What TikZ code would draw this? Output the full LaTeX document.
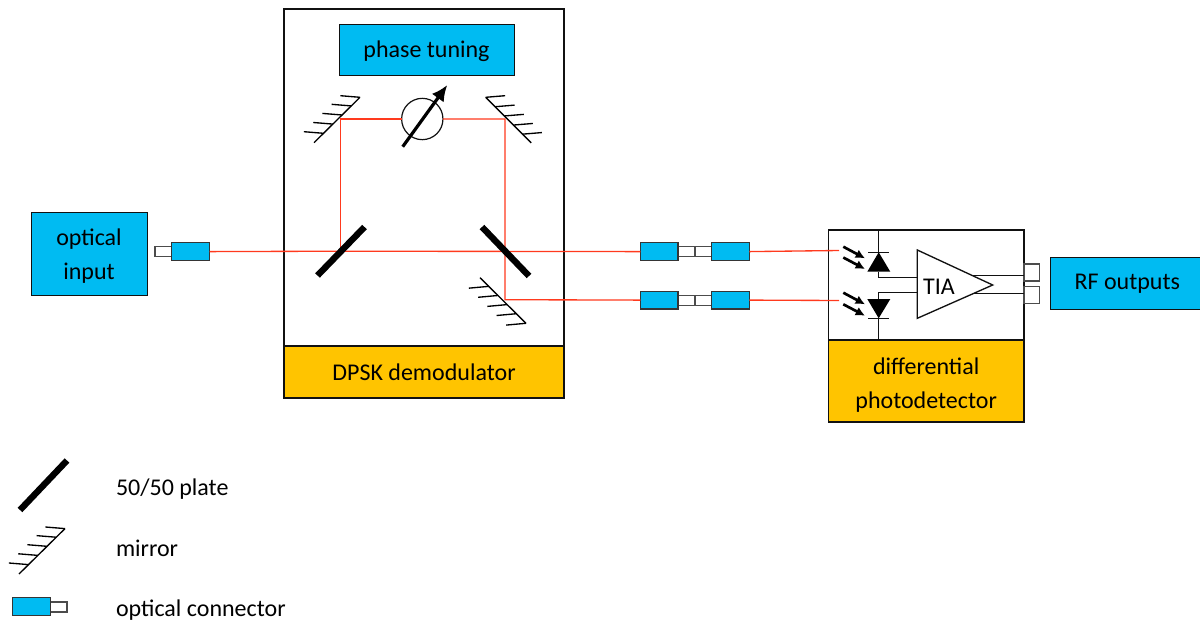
\documentclass[tikz,border=0pt]{standalone}
\usepackage{fontspec}
\setmainfont{Carlito}
\usetikzlibrary{arrows.meta}
\definecolor{cyanbox}{HTML}{00BBF2}
\definecolor{amberbox}{HTML}{FFC400}
\definecolor{beam}{HTML}{FF3A1E}
\definecolor{ink}{HTML}{111111}
\newcommand{\rbox}[6]{% name, style, x1, y1, x2, y2, then text
  \pgfmathsetmacro{\rw}{(#5-#3)*0.75}\pgfmathsetmacro{\rh}{(#6-#4)*0.75}
  \node[#2,minimum width=\rw pt,minimum height=\rh pt] (#1) at ({(#3+#5)/2},{(#4+#6)/2})}
\newcommand{\lowered}[2]{\raisebox{-#1}[\height][\depth]{#2}}
\tikzset{
  x=0.75pt,y=-0.75pt,
  every node/.style={font=\fontsize{18}{25.5}\selectfont,text=black,inner sep=0pt,outer sep=0pt},
  frame/.style={draw=ink,line width=0.9pt,fill=white},
  cyanb/.style={frame,line width=0.75pt,fill=cyanbox,align=center},
  amberb/.style={frame,fill=amberbox,align=center},
  connb/.style={draw=ink!85,line width=0.9pt,fill=cyanbox},
  stub/.style={draw=ink!75,line width=0.8pt,fill=white},
  beamline/.style={draw=beam,line width=1pt},
  wire/.style={draw=ink,line width=1pt},
  plate/.style={draw=black,line width=4.8pt},
  mirrorline/.style={draw=black,line width=1pt},
  legendtext/.style={anchor=west},
  lightarrow/.style={draw=black,line width=2pt,-{Latex[length=7pt,width=7pt]}},
  pics/mirrorleft/.style={code={
    \draw[mirrorline] (0,0) -- (46,-45.4);
    \foreach \t in {0.207,0.41,0.61,0.81,1}
      \draw[mirrorline] ({46*\t},{-45.4*\t}) -- ++(-19.6,-1.6);
  }},
  pics/mirrorright/.style={code={
    \draw[mirrorline] (0,0) -- (45.5,45.5);
    \foreach \t in {0,0.207,0.41,0.61,0.81}
      \draw[mirrorline] ({45.5*\t},{45.5*\t}) -- ++(19.4,-1.6);
  }},
  pics/mirrorlow/.style={code={
    \draw[mirrorline] (0,0) -- (46,45.6);
    \foreach \t in {0.19,0.39,0.59,0.79,1}
      \draw[mirrorline] ({46*\t},{45.6*\t}) -- ++(-19.8,1.8);
  }},
}
\begin{document}
\begin{tikzpicture}
\useasboundingbox (0,0) rectangle (1200,625);
% enclosures
\rbox{demod}{frame}{284}{9}{564}{346} {};
\rbox{demodlabel}{amberb}{284}{346}{564}{398} {DPSK demodulator};
\rbox{phasetune}{cyanb}{339}{24}{514}{75} {\lowered{1.5pt}{phase tuning}};
\rbox{input}{cyanb}{31}{212}{147}{295} {\lowered{2.2pt}{optical}\\\lowered{2.2pt}{input}};
\rbox{det}{frame}{828.3}{230}{1024}{340} {};
\rbox{detlabel}{amberb}{828.3}{340}{1024}{422} {\lowered{3pt}{differential}\\\lowered{3pt}{photodetector}};
\rbox{rf}{cyanb}{1050.5}{257}{1204}{309} {\lowered{0.8pt}{RF outputs}};
% beam junctions
\coordinate (j1) at (340.5,251.2);
\coordinate (j2) at (340.5,119);
\coordinate (j3) at (505,119);
\coordinate (j4) at (505,299.7);
% connectors
\rbox{stubin}{stub}{155}{246.5}{171.3}{256.5} {};
\rbox{connin}{connb}{171.3}{242.7}{209.5}{260.5} {};
\rbox{stuba}{stub}{678}{246.5}{695}{256.5} {};
\rbox{stubb}{stub}{695}{246.5}{711.3}{256.5} {};
\rbox{conna}{connb}{640.3}{242.7}{678}{260.5} {};
\rbox{connb}{connb}{711.3}{242.7}{749.3}{260.5} {};
\rbox{stubc}{stub}{678}{295.4}{695}{305.4} {};
\rbox{stubd}{stub}{695}{295.4}{711.3}{305.4} {};
\rbox{connc}{connb}{640.3}{291.2}{678}{309} {};
\rbox{connd}{connb}{711.3}{291.2}{749.3}{309} {};
% beams
\coordinate (da) at (839,250.5);
\coordinate (dc) at (839,300.5);
\node[draw=ink,line width=0.9pt,fill=white,circle,minimum size=31pt] (ps) at (422.3,119) {};
\draw[beamline] (j1) -- (j2) -- (ps.west);
\draw[beamline] (ps.east) -- (j3) -- (j4) -- (connc.west);
\draw[beamline] (connb.east) -- (da);
\draw[beamline] (connd.east) -- (dc);
\draw[beamline] (connin.east) -- (j1);
\draw[beamline] (j1) -- (conna.west);
% phase shifter arrow
\coordinate (psa) at (402.7,146.7);
\coordinate (psb) at (447.3,85);
\draw[draw=black,line width=2.4pt,-{Latex[length=12pt,width=11pt]}] (psa) -- (psb);
% plates
\coordinate (pl1) at (317.5,275.5);
\coordinate (pl2) at (364.5,227);
\coordinate (pr1) at (482,227);
\coordinate (pr2) at (529,276);
\draw[plate] (pl1) -- (pl2);
\draw[plate] (pr1) -- (pr2);
% mirrors
\pic at (314,142.7) {mirrorleft};
\pic at (485.7,97.3) {mirrorright};
\pic at (480,277.7) {mirrorlow};
% photodiodes
\coordinate (tia1) at (917.3,250);
\coordinate (tia2) at (917.3,318.3);
\coordinate (tia3) at (992.7,285);
\coordinate (dtop) at (878.7,230);
\coordinate (dbot) at (878.7,340);
\coordinate (ua) at (878.7,252.3);
\coordinate (ub) at (878.7,271.7);
\coordinate (uc) at (878.7,277.3);
\coordinate (ud) at (917.3,277.3);
\coordinate (la) at (878.7,318.3);
\coordinate (lb) at (878.7,299);
\coordinate (lc) at (878.7,292.7);
\coordinate (ld) at (917.3,292.7);
\draw[wire] (dtop) -- (ua);
\draw[wire] (ub) -- (uc) -- (ud);
\draw[wire] (dbot) -- (la);
\draw[wire] (lb) -- (lc) -- (ld);
\draw[wire] (868,252.3) -- (889,252.3);
\draw[wire] (868,318.3) -- (889,318.3);
\fill[black] (ua) -- (890.3,271.7) -- (867.3,271.7) -- cycle;
\fill[black] (la) -- (890.3,299) -- (867.3,299) -- cycle;
\draw[lightarrow] (843.3,246.7) -- (865,258.3);
\draw[lightarrow] (843.3,257.5) -- (865,269);
\draw[lightarrow] (843.3,292.7) -- (865,304.3);
\draw[lightarrow] (843.3,304.3) -- (865,315.7);
% TIA
\draw[wire,fill=white] (tia1) -- (tia3) -- (tia2) -- cycle;
\node (tia) at (939,287) {TIA};
\rbox{outa}{stub}{1024}{264}{1039.3}{281} {};
\rbox{outb}{stub}{1024}{286.3}{1039.3}{303.3} {};
\coordinate (oa) at (972.7,275.7);
\coordinate (ob) at (973.9,293.3);
\draw[wire] (oa) -- (oa -| outa.west);
\draw[wire] (ob) -- (ob -| outb.west);
% legend
\coordinate (lg1) at (20,510);
\coordinate (lg2) at (67,460.5);
\draw[plate] (lg1) -- (lg2);
\pic at (19,574) {mirrorleft};
\rbox{legstub}{stub}{50.3}{602}{67}{612} {};
\rbox{legconn}{connb}{12.3}{597.7}{50.3}{615.7} {};
\node[legendtext] (t1) at (116,489) {50/50 plate};
\node[legendtext] (t2) at (116,548) {mirror};
\node[legendtext] (t3) at (116,610) {optical connector};
\end{tikzpicture}
\end{document}
